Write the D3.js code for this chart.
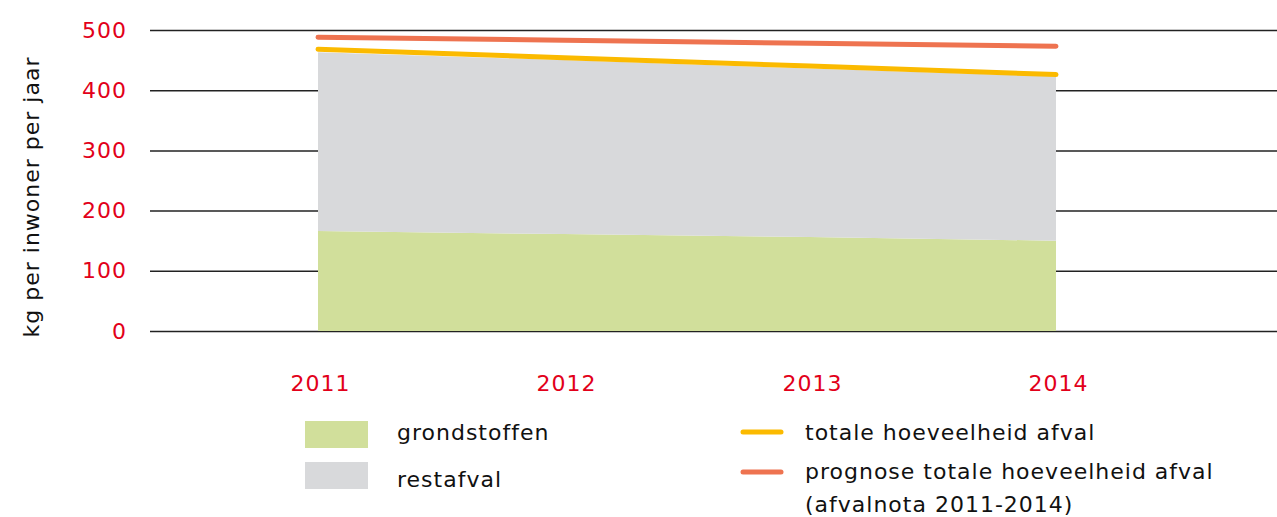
<!DOCTYPE html>
<html>
<head>
<meta charset="utf-8">
<script src="https://cdn.jsdelivr.net/npm/d3@7"></script>
<style>
  body { margin: 0; background: #fff; }
  text { font-family: "DejaVu Sans", sans-serif; letter-spacing: 1px; }
</style>
</head>
<body>
<svg id="chart" width="1277" height="517"></svg>
<script>
// data
let years = ["2011", "2012", "2013", "2014"]
let grondstoffen = [166, 161, 156, 150]
let restafval = [297, 289, 280, 273]
let totaal = [468, 454, 440, 426]
let prognose = [488, 483, 478, 473]
let yTicks = [0, 100, 200, 300, 400, 500]

let svg = d3.select("#chart")

let xscale = d3.scalePoint().domain(years).range([318, 1056])
let yscale = d3.scaleLinear().domain([0, 500]).range([331, 30])

// gridlines
svg.append("g")
    .attr("transform", "translate(1277,0)")
    .call(d3.axisRight(yscale).tickValues(yTicks).tickSize(-1127).tickFormat(""))
    .call(g => g.select(".domain").remove())
    .selectAll("line").attr("stroke", "#222").attr("stroke-width", 1.5)

// y tick labels
let yAxis = svg.append("g")
    .attr("transform", "translate(150,0)")
    .call(d3.axisLeft(yscale).tickValues(yTicks).tickSize(0).tickPadding(23))
yAxis.select(".domain").remove()
yAxis.selectAll("text")
    .attr("fill", "#e2001a")
    .style("font-size", "22px")

// stacked areas
let stackData = years.map((y, i) => ({ year: y, grondstoffen: grondstoffen[i], restafval: restafval[i] }))
let series = d3.stack().keys(["grondstoffen", "restafval"])(stackData)
let colors = { grondstoffen: "#d1df9b", restafval: "#d8d9db" }

let area = d3.area()
    .x(d => xscale(d.data.year))
    .y0(d => yscale(d[0]))
    .y1(d => yscale(d[1]))

svg.selectAll(".area")
    .data(series)
    .enter()
    .append("path")
    .attr("d", d => area(d))
    .attr("fill", d => colors[d.key])

// lines
let lineFunction = d3.line()
    .x((d, i) => xscale(years[i]))
    .y(d => yscale(d))

svg.append("path")
    .datum(prognose)
    .attr("d", d => lineFunction(d))
    .attr("fill", "none")
    .attr("stroke", "#ee7350")
    .attr("stroke-width", 5)
    .attr("stroke-linecap", "round")

svg.append("path")
    .datum(totaal)
    .attr("d", d => lineFunction(d))
    .attr("fill", "none")
    .attr("stroke", "#fbba00")
    .attr("stroke-width", 5)
    .attr("stroke-linecap", "round")

// x labels
let xAxis = svg.append("g")
    .attr("transform", "translate(2,331)")
    .call(d3.axisBottom(xscale).tickSize(0).tickPadding(44))
xAxis.select(".domain").remove()
xAxis.selectAll("text")
    .attr("fill", "#e2001a")
    .style("font-size", "22px")

// y axis title
svg.append("text")
    .attr("transform", "translate(39,197) rotate(-90)")
    .attr("text-anchor", "middle")
    .style("font-size", "22px")
    .attr("fill", "#111")
    .text("kg per inwoner per jaar")

// legend
svg.append("rect").attr("x", 305).attr("y", 421).attr("width", 63).attr("height", 27).attr("fill", colors.grondstoffen)
svg.append("text").attr("x", 397).attr("y", 440).style("font-size", "22px").attr("fill", "#111").text("grondstoffen")
svg.append("rect").attr("x", 305).attr("y", 462).attr("width", 63).attr("height", 27).attr("fill", colors.restafval)
svg.append("text").attr("x", 397).attr("y", 487).style("font-size", "22px").attr("fill", "#111").text("restafval")

svg.append("line").attr("x1", 743).attr("x2", 781).attr("y1", 432).attr("y2", 432)
    .attr("stroke", "#fbba00").attr("stroke-width", 5).attr("stroke-linecap", "round")
svg.append("text").attr("x", 805).attr("y", 440).style("font-size", "22px").attr("fill", "#111").text("totale hoeveelheid afval")
svg.append("line").attr("x1", 743).attr("x2", 781).attr("y1", 472).attr("y2", 472)
    .attr("stroke", "#ee7350").attr("stroke-width", 5).attr("stroke-linecap", "round")
svg.append("text").attr("x", 805).attr("y", 479).style("font-size", "22px").attr("fill", "#111").text("prognose totale hoeveelheid afval")
svg.append("text").attr("x", 805).attr("y", 512).style("font-size", "22px").attr("fill", "#111").text("(afvalnota 2011-2014)")
</script>
</body>
</html>
